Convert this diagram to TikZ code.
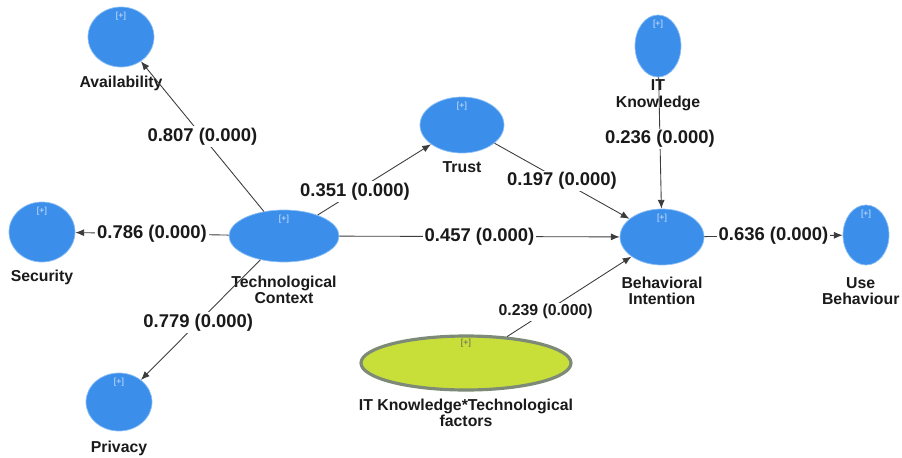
\documentclass[tikz,border=0pt]{standalone}
\usepackage{fontspec}
\setmainfont{Liberation Sans}
\usetikzlibrary{arrows.meta,shapes.geometric}
\definecolor{LV}{HTML}{3B8EEA}
\definecolor{LVRIM}{HTML}{8CC0F5}
\definecolor{MODF}{HTML}{C8DF3A}
\definecolor{MODRIM}{HTML}{7E8A78}
\definecolor{INK}{HTML}{1A1A1A}

\begin{document}
\begin{tikzpicture}[
  lv/.style={ellipse, fill=LV, draw=LVRIM, line width=0.4pt, inner sep=0pt},
  modlv/.style={ellipse, fill=MODF, draw=MODRIM, line width=1.8pt, inner sep=0pt},
  lvname/.style={font=\fontsize{9}{9.3}\selectfont\bfseries, text=INK, align=center},
  plus/.style={font=\fontsize{5}{5}\selectfont, text=white!80!LV},
  link/.style={draw=INK!85, line width=0.5pt, -{Latex[length=5pt,width=4pt]}},
  coef/.style={font=\fontsize{10.5}{11}\selectfont\bfseries, text=INK, fill=white, inner sep=1pt},
]
\useasboundingbox (0,0) rectangle (18.04,9.14);

% latent variables
\node[lv, minimum width=1.32cm, minimum height=1.2cm,
  label={[lvname, label distance=1.5pt]below:Availability}] (avail) at (2.42,8.40) {};
\node[lv, minimum width=1.32cm, minimum height=1.2cm,
  label={[lvname, label distance=1pt]below:Security}] (secur) at (0.84,4.50) {};
\node[lv, minimum width=1.32cm, minimum height=1.16cm,
  label={[lvname, label distance=2pt]below:Privacy}] (priv) at (2.38,1.10) {};
\node[lv, minimum width=2.2cm, minimum height=1.04cm,
  label={[lvname, label distance=4pt]below:{Technological\\Context}}] (tech) at (5.68,4.42) {};
\node[lv, minimum width=1.68cm, minimum height=1.12cm,
  label={[lvname, label distance=1pt]below:Trust}] (trust) at (9.24,6.64) {};
\node[lv, minimum width=0.92cm, minimum height=1.24cm,
  label={[lvname, label distance=-2pt]below:{IT\\Knowledge}}] (itk) at (13.16,8.22) {};
\node[lv, minimum width=1.68cm, minimum height=1.12cm,
  label={[lvname, label distance=3pt]below:{Behavioral\\Intention}}] (bi) at (13.24,4.40) {};
\node[lv, minimum width=0.92cm, minimum height=1.2cm,
  label={[lvname, label distance=3.5pt, xshift=-3pt]below:{Use\\Behaviour}}] (use) at (17.32,4.44) {};

% moderating effect
\node[modlv, minimum width=4.2cm, minimum height=1.08cm,
  label={[lvname, label distance=0.5pt]below:{IT Knowledge*Technological\\factors}}] (mod) at (9.32,1.88) {};

% [+] markers
\foreach \n in {avail,secur,priv,tech,trust,itk,bi,use}
  \node[plus] (\n-plus) at ([yshift=-0.2cm]\n.north) {[+]};
\node[plus, text=INK!70] (mod-plus) at ([yshift=-0.18cm]mod.north) {[+]};

% paths
\draw[link] (tech) -- node[coef, pos=0.5] (c-avail) {0.807 (0.000)} (avail);
\draw[link] (tech) -- node[coef, pos=0.5] (c-secur) {0.786 (0.000)} (secur);
\draw[link] (tech) -- node[coef, pos=0.52] (c-priv) {0.779 (0.000)} (priv);
\draw[link] (tech) -- node[coef, pos=0.33] (c-trust) {0.351 (0.000)} (trust);
\draw[link] (trust) -- node[coef, pos=0.5] (c-tbi) {0.197 (0.000)} (bi);
\draw[link] (tech) -- node[coef, pos=0.5] (c-bi) {0.457 (0.000)} (bi);
\draw[link] (itk) -- node[coef, pos=0.47] (c-itk) {0.236 (0.000)} (bi);
\draw[link] (mod) -- node[coef, pos=0.31, font=\fontsize{9}{10}\selectfont\bfseries] (c-mod) {0.239 (0.000)} (bi);
\draw[link] (bi) -- node[coef, pos=0.5] (c-use) {0.636 (0.000)} (use);

\end{tikzpicture}
\end{document}
